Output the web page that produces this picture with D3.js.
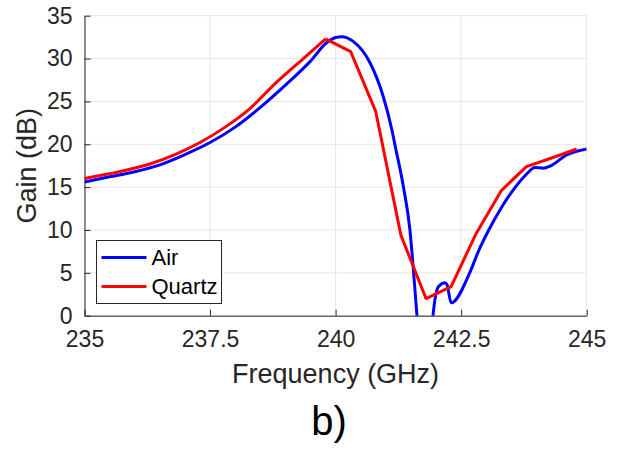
<!DOCTYPE html>
<html>
<head>
<meta charset="utf-8">
<script src="https://cdn.jsdelivr.net/npm/d3@7"></script>
<style>
  body { margin: 0; background: #fff; }
  svg { display: block; font-family: "Liberation Sans", Arial, sans-serif; }
</style>
</head>
<body>
<svg id="chart" width="623" height="449"></svg>
<script>
// Values (frequency in GHz, gain in dB)
const airFreq = [235.0, 235.5, 236.0, 236.5, 237.0, 237.5, 238.0, 238.5, 239.0, 239.5,
  239.82, 240.0, 240.12, 240.35, 240.69, 240.95, 241.12, 241.19, 241.35, 241.48,
  241.55, 241.62, 241.7, 241.88, 241.94, 242.05, 242.18, 242.22, 242.3, 242.67,
  242.85, 243.05, 243.3, 243.58, 243.8, 243.97, 244.14, 244.27, 244.6, 245.0];
const airGain = [15.6, 16.2, 16.8, 17.6, 18.8, 20.2, 22.0, 24.3, 26.9, 29.7,
  31.85, 32.45, 32.55, 32.0, 29.45, 25.55, 21.7, 19.7, 15.05, 10.0,
  5.3, 0, -6, -6, 0, 3.4, 3.85, 3.6, 1.5, 5.0,
  7.6, 10.0, 12.6, 15.0, 16.5, 17.3, 17.2, 17.45, 18.75, 19.45];

// rising part is smooth, the part after the peak has visible corners
const quartzRiseFreq = [235.0, 235.3, 235.8, 236.3, 236.8, 237.3, 237.8, 238.3, 238.8, 239.3, 239.8];
const quartzRiseGain = [16.0, 16.35, 16.95, 17.7, 18.8, 20.2, 22.0, 24.2, 27.1, 29.7, 32.3];
const quartzFallFreq = [239.8, 240.3, 240.8, 241.3, 241.8, 242.3, 242.8, 243.3, 243.8, 244.3, 244.8];
const quartzFallGain = [32.3, 30.8, 23.8, 9.4, 2.0, 3.4, 9.6, 14.6, 17.4, 18.4, 19.45];

const xTicks = [235, 237.5, 240, 242.5, 245];
const yTicks = [0, 5, 10, 15, 20, 25, 30, 35];
const seriesNames = ['Air', 'Quartz'];
const seriesColors = ['#0000ff', '#ff0000'];

const svg = d3.select('#chart');
const margin = {left: 84.5, top: 15.7, right: 623 - 586.7, bottom: 449 - 315.7};
const w = 623 - margin.left - margin.right;
const h = 449 - margin.top - margin.bottom;

const x = d3.scaleLinear().domain([235, 245]).range([0, w]);
const y = d3.scaleLinear().domain([0, 35]).range([h, 0]);

const g = svg.append('g').attr('transform', `translate(${margin.left},${margin.top})`);

// grid
g.append('g').selectAll('line').data(xTicks).join('line')
  .attr('x1', d => x(d)).attr('x2', d => x(d))
  .attr('y1', 0).attr('y2', h)
  .attr('stroke', '#e6e6e6').attr('stroke-width', 1);
g.append('g').selectAll('line').data(yTicks).join('line')
  .attr('x1', 0).attr('x2', w)
  .attr('y1', d => y(d)).attr('y2', d => y(d))
  .attr('stroke', '#e6e6e6').attr('stroke-width', 1);

// axes (ticks pointing inward)
const xAxis = g.append('g').attr('transform', `translate(0,${h})`)
  .call(d3.axisBottom(x).tickValues(xTicks).tickSizeInner(-6).tickSizeOuter(0)
    .tickPadding(15).tickFormat(d3.format('')));
const yAxis = g.append('g')
  .call(d3.axisLeft(y).tickValues(yTicks).tickSizeInner(-6).tickSizeOuter(0)
    .tickPadding(12).tickFormat(d3.format('')));
[xAxis, yAxis].forEach(a => {
  a.select('.domain').attr('stroke', '#262626');
  a.selectAll('.tick line').attr('stroke', '#262626');
  a.selectAll('.tick text').attr('fill', '#262626').style('font-size', '23px')
    .style('font-family', '"Liberation Sans", Arial, sans-serif');
});
xAxis.selectAll('.tick text').attr('dy', '0.71em');

// curves
svg.append('defs').append('clipPath').attr('id', 'plotClip')
  .append('rect').attr('width', w).attr('height', h);

const pairs = (fs, gs) => fs.map((f, i) => [f, gs[i]]);
const smooth = d3.line().x(d => x(d[0])).y(d => y(d[1])).curve(d3.curveMonotoneX);
const straight = d3.line().x(d => x(d[0])).y(d => y(d[1]));

const lines = g.append('g').attr('clip-path', 'url(#plotClip)')
  .attr('fill', 'none').attr('stroke-width', 3).attr('stroke-linejoin', 'round');
lines.append('path').datum(pairs(airFreq, airGain))
  .attr('d', smooth).attr('stroke', seriesColors[0]);
lines.append('path').datum(pairs(quartzRiseFreq, quartzRiseGain))
  .attr('d', smooth).attr('stroke', seriesColors[1]);
lines.append('path').datum(pairs(quartzFallFreq, quartzFallGain))
  .attr('d', straight).attr('stroke', seriesColors[1]);

// legend
const legend = svg.append('g').attr('transform', 'translate(96.5,240.5)');
legend.append('rect').attr('width', 125).attr('height', 63)
  .attr('fill', '#fff').attr('stroke', '#262626').attr('stroke-width', 1);
seriesNames.forEach((name, i) => {
  const ly = 17 + i * 29;
  legend.append('line').attr('x1', 5).attr('x2', 50).attr('y1', ly).attr('y2', ly)
    .attr('stroke', seriesColors[i]).attr('stroke-width', 3);
  legend.append('text').attr('x', 55).attr('y', ly).attr('dy', '0.36em')
    .attr('fill', '#000').style('font-size', '22px').text(name);
});

// axis titles
svg.append('text').attr('x', margin.left + w / 2).attr('y', 383)
  .attr('text-anchor', 'middle').attr('fill', '#262626').style('font-size', '27px')
  .text('Frequency (GHz)');
svg.append('text').attr('transform', `translate(36,${margin.top + h / 2}) rotate(-90)`)
  .attr('text-anchor', 'middle').attr('fill', '#262626').style('font-size', '27px')
  .text('Gain (dB)');

// panel label
svg.append('text').attr('x', 329).attr('y', 435)
  .attr('text-anchor', 'middle').attr('fill', '#000').style('font-size', '40px')
  .text('b)');
</script>
</body>
</html>
